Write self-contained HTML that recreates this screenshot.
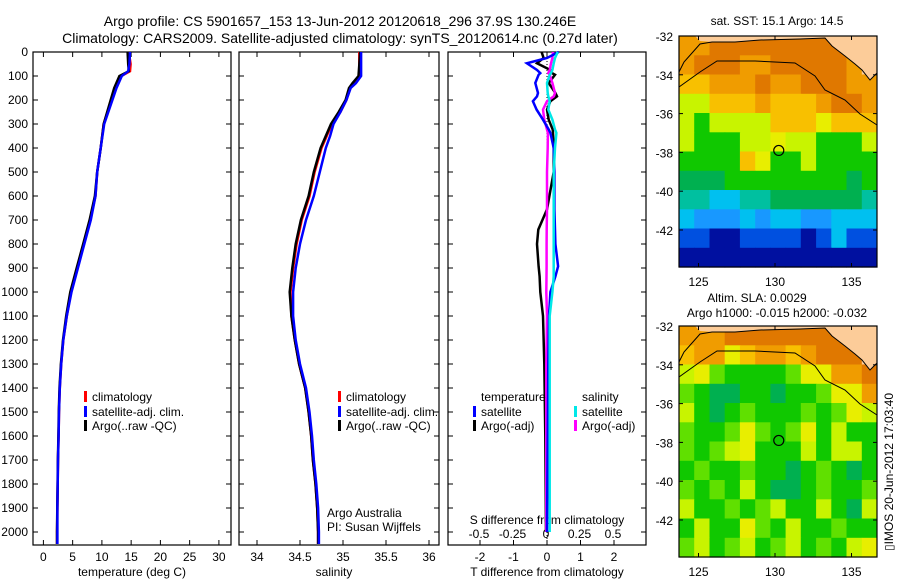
<!DOCTYPE html>
<html><head><meta charset="utf-8"><style>
body{margin:0;background:#fff;}
svg{display:block;font-family:"Liberation Sans",sans-serif;}
</style></head><body>
<svg id="fig" width="900" height="580" viewBox="0 0 900 580" xmlns="http://www.w3.org/2000/svg">
<text x="340" y="26" font-size="14" text-anchor="middle">Argo profile: CS 5901657_153 13-Jun-2012 20120618_296 37.9S 130.246E</text>
<text x="340" y="43" font-size="14" text-anchor="middle">Climatology: CARS2009. Satellite-adjusted climatology: synTS_20120614.nc (0.27d later)</text>
<g id="p1"></g>
<g id="p2"></g>
<g id="p3"></g>
<g id="m1"></g>
<g id="m2"></g>
<text x="777" y="25" font-size="12" text-anchor="middle">sat. SST: 15.1 Argo: 14.5</text>
<text x="757" y="302" font-size="12" text-anchor="middle">Altim. SLA: 0.0029</text>
<text x="777" y="317" font-size="12" text-anchor="middle">Argo h1000: -0.015 h2000: -0.032</text>
<text transform="translate(893,472) rotate(-90)" font-size="12" text-anchor="middle">▯IMOS 20-Jun-2012 17:03:40</text>
</svg>
<script>
// ---- data ----
const depthT = [0,50,80,100,150,200,300,400,500,600,700,800,900,1000,1100,1200,1300,1400,1500,1600,1700,1800,1900,2000,2050];
const tempClim = [14.6,14.9,14.8,13.3,12.3,11.6,10.3,9.8,9.2,8.9,8.0,6.9,5.8,4.7,4.0,3.4,3.05,2.8,2.66,2.6,2.5,2.45,2.4,2.35,2.35];
const tempSat  = [14.8,14.7,14.5,13.4,12.5,11.8,10.4,9.8,9.2,8.9,8.1,7.0,5.9,4.8,4.0,3.4,3.05,2.8,2.66,2.6,2.5,2.45,2.4,2.4,2.4];
const tempArgo = [14.4,14.5,14.6,13.0,12.1,11.5,10.3,9.8,9.2,8.8,7.9,6.8,5.7,4.6,3.9,3.35,3.0,2.75,2.63,2.57,2.48,2.42,2.38,2.33,2.33];
const depthS = [0,100,130,150,200,250,300,350,400,500,600,700,800,900,1000,1100,1200,1300,1400,1500,1600,1700,1800,1900,2000,2050];
const salClim = [35.19,35.19,35.14,35.08,35.04,34.97,34.87,34.81,34.75,34.67,34.61,34.52,34.46,34.42,34.39,34.40,34.44,34.49,34.56,34.60,34.63,34.65,34.68,34.70,34.71,34.71];
const salSat  = [35.21,35.21,35.15,35.09,35.04,34.97,34.89,34.85,34.80,34.73,34.66,34.57,34.50,34.45,34.42,34.42,34.45,34.50,34.57,34.61,34.64,34.66,34.69,34.71,34.72,34.72];
const salArgo = [35.20,35.18,35.11,35.07,35.03,34.95,34.86,34.80,34.74,34.66,34.60,34.51,34.45,34.41,34.38,34.40,34.44,34.49,34.56,34.60,34.63,34.65,34.68,34.70,34.71,34.71];
const depthD = [0,25,47,75,88,95,129,171,185,205,240,282,323,337,400,500,656,740,800,893,935,1000,1100,1300,1600,2000];
const dTsat  = [0.35,0.0,-0.6,-0.3,-0.2,-0.25,-0.35,-0.27,-0.3,-0.42,-0.31,-0.12,0.05,0.1,0.2,0.22,0.22,0.24,0.25,0.33,0.25,0.1,0.06,0.04,0.02,0.0];
const dTargo = [-0.16,-0.1,-0.3,0.1,0.15,0.24,0.05,0.25,0.3,0.1,0.0,0.05,0.17,0.18,0.2,0.2,0.0,-0.26,-0.3,-0.25,-0.22,-0.2,-0.12,-0.08,-0.05,-0.03];
const dSargo = [0.045,0.04,0.03,0.02,0.01,0.02,0.04,0.06,0.05,0.0,-0.03,-0.02,0.0,0.007,0.005,0.0,0.0,-0.002,-0.003,-0.003,-0.004,-0.005,0.0,-0.005,-0.005,-0.005];
const dSsat  = [0.08,0.06,0.05,0.04,0.03,0.02,0.0,0.005,0.01,0.02,0.01,0.04,0.06,0.07,0.06,0.05,0.05,0.05,0.05,0.05,0.05,0.04,0.02,0.02,0.02,0.02];
const tTicks = [0,5,10,15,20,25,30];
const sTicks = [34,34.5,35,35.5,36];
const dTicks = [-2,-1,0,1,2];
const sDiffTicks = ["-0.5","-0.25","0","0.25","0.5"];
const depthTicks = [0,100,200,300,400,500,600,700,800,900,1000,1100,1200,1300,1400,1500,1600,1700,1800,1900,2000];
const lonTicks = [125,130,135];
const latTicks = [-32,-34,-36,-38,-40,-42];
const sstGrid = [
"OODDDDDDDDDLL","ODDDOODDDDDOL","ooOOODOODDDOO","yyoooOoooODDO","yGyyyyoooYooo","yGGGyyYyyGGGy",
"GGGGoYGGyGGGG","TTTGGGGGGGGTG","ttCCttTTTTTTt","CbbbCbCCbbCCC","BBNNBBBBNBCBB","NNNNNNNNNNNNN"];
const slaGrid = [
"OOODDDDDDDDLL","oOOYoOOoODDDL","yYgGGGGgYYOOD","gGTTGGTGGgYYO","yGTGgGGGgGgYy","gGGgYgGgYGyGG",
"gGgyYGGGyGyyG","GgGGgGGTGgGTG","gGgGyGTTGgGGg","yGGgGgyGGyGTy","GyGGYgGyGGgGG","gyGgyGgyGgGyY"];
const argoLon = 130.246, argoLat = -37.9;

// ---- helpers ----
const NS="http://www.w3.org/2000/svg";
function mk(parent,tag,attrs,txt){const e=document.createElementNS(NS,tag);for(const k in attrs)e.setAttribute(k,attrs[k]);if(txt!==undefined)e.textContent=txt;parent.appendChild(e);return e;}
const Y0=52, PXD=0.24, YB=545;
const yD=d=>Y0+d*PXD;
const xT=v=>43.4+5.85*v;
const xS=v=>257+86*(v-34);
const xDT=v=>547+33.5*v;
const xDS=v=>547+134*v;

function frame(g,x0,x1,name){
  const r=mk(g,'rect',{x:x0,y:Y0,width:x1-x0,height:YB-Y0,fill:'none',stroke:'#000','stroke-width':1.2});
  
  depthTicks.forEach(d=>{
    mk(g,'line',{x1:x0,x2:x0+5,y1:yD(d),y2:yD(d),stroke:'#000'});
    mk(g,'line',{x1:x1,x2:x1-5,y1:yD(d),y2:yD(d),stroke:'#000'});
  });
}
function line(g,xs,ds,fx,color,name,w){
  const p=mk(g,'polyline',{points:xs.map((v,i)=>fx(v).toFixed(1)+','+yD(ds[i]).toFixed(1)).join(' '),fill:'none',stroke:color,'stroke-width':w||2.5});
  
  
}
function xticks(g,vals,fx,labels,ly){
  vals.forEach((v,i)=>{
    mk(g,'line',{x1:fx(v),x2:fx(v),y1:Y0,y2:Y0+5,stroke:'#000'});
    mk(g,'line',{x1:fx(v),x2:fx(v),y1:YB,y2:YB-5,stroke:'#000'});
    const t=mk(g,'text',{x:fx(v),y:ly,'font-size':12,'text-anchor':'middle'},labels?labels[i]:String(v));
    
    
  });
}
function legendRow(g,x,y,color,label){
  if(color) mk(g,'rect',{x:x,y:y-10,width:3,height:11,fill:color});
  const t=mk(g,'text',{x:x+8,y:y,'font-size':12},label);
  
  
}

// ---- panel 1 ----
const p1=document.getElementById('p1');
frame(p1,33,231,'temperature-panel');
depthTicks.forEach(d=>{const t=mk(p1,'text',{x:28,y:yD(d)+4,'font-size':12,'text-anchor':'end'},String(d));
  
  });
xticks(p1,tTicks,xT,null,561);
mk(p1,'text',{x:132,y:576,'font-size':12,'text-anchor':'middle'},'temperature (deg C)');
line(p1,tempClim,depthT,xT,'#ff0000','temp-climatology-line');
line(p1,tempArgo,depthT,xT,'#000000','temp-argo-line');
line(p1,tempSat,depthT,xT,'#0000ff','temp-satellite-line');
legendRow(p1,84,401,'#ff0000','climatology');
legendRow(p1,84,416,'#0000ff','satellite-adj. clim.');
legendRow(p1,84,430,'#000000','Argo(..raw -QC)');

// ---- panel 2 ----
const p2=document.getElementById('p2');
frame(p2,239,439,'salinity-panel');
xticks(p2,sTicks,xS,null,561);
mk(p2,'text',{x:334,y:576,'font-size':12,'text-anchor':'middle'},'salinity');
line(p2,salClim,depthS,xS,'#ff0000','sal-climatology-line');
line(p2,salArgo,depthS,xS,'#000000','sal-argo-line');
line(p2,salSat,depthS,xS,'#0000ff','sal-satellite-line');
legendRow(p2,338,401,'#ff0000','climatology');
legendRow(p2,338,416,'#0000ff','satellite-adj. clim.');
legendRow(p2,338,430,'#000000','Argo(..raw -QC)');
mk(p2,'text',{x:327,y:517,'font-size':12},'Argo Australia');
mk(p2,'text',{x:327,y:531,'font-size':12},'PI: Susan Wijffels');

// ---- panel 3 ----
const p3=document.getElementById('p3');
frame(p3,448,646,'difference-panel');
xticks(p3,dTicks,xDT,null,561);
dTicks.forEach((v,i)=>{mk(p3,'text',{x:xDT(v)-1,y:538,'font-size':12,'text-anchor':'middle'},sDiffTicks[i]);});
mk(p3,'text',{x:547,y:524,'font-size':12,'text-anchor':'middle'},'S difference from climatology');
mk(p3,'text',{x:547,y:576,'font-size':12,'text-anchor':'middle'},'T difference from climatology');
mk(p3,'line',{x1:547,x2:547,y1:Y0,y2:YB,stroke:'#000','stroke-dasharray':'1,2'});
line(p3,dTargo,depthD,xDT,'#000000','tdiff-argo-line');
line(p3,dSargo,depthD,xDS,'#ff00ff','sdiff-argo-line');
line(p3,dTsat,depthD,xDT,'#0000ff','tdiff-satellite-line');
line(p3,dSsat,depthD,xDS,'#00e8e8','sdiff-satellite-line');
mk(p3,'text',{x:481,y:401,'font-size':12},'temperature');
mk(p3,'text',{x:582,y:401,'font-size':12},'salinity');
legendRow(p3,473,416,'#0000ff','satellite');
legendRow(p3,473,430,'#000000','Argo(-adj)');
legendRow(p3,574,416,'#00e8e8','satellite');
legendRow(p3,574,430,'#ff00ff','Argo(-adj)');

// ---- maps ----
const pal={L:'#fccc99',D:'#e07800',O:'#f09c00',o:'#f8c000',Y:'#e8ee00',y:'#c8f400',g:'#60e000',G:'#10c800',T:'#00b050',t:'#00c0a0',C:'#00c0f0',b:'#1898ff',B:'#0050e0',N:'#0010a0'};
const MX0=679,MX1=877,PXLON=15.3,PXLAT=19.4;
function mapLon(v){return 775+(v-130)*PXLON;}
function drawMap(id,grid,top,label){
  const g=document.getElementById(id);
  const lat=v=>top+(-32-v)*PXLAT;
  const rows=grid.length, cols=grid[0].length;
  const cw=(MX1-MX0)/cols, rh=231/rows;
  grid.forEach((row,r)=>{for(let c=0;c<cols;c++){
    mk(g,'rect',{x:(MX0+c*cw).toFixed(1),y:(top+r*rh).toFixed(1),width:(cw+0.5).toFixed(1),height:(rh+0.5).toFixed(1),fill:pal[row[c]]});
  }});
  const P=pts=>pts.map(p=>p[0]+','+(top+p[1])).join(' ');
  mk(g,'polygon',{points:P([[695,0],[700,5],[712,6],[735,6],[760,4],[800,3],[825,2],[832,10],[845,20],[855,28],[862,34],[870,44],[877,37],[877,0]]),fill:pal.L});
  mk(g,'polyline',{points:P([[679,36],[684,26],[700,8],[712,6],[735,6],[760,4],[800,3],[825,2],[832,10],[845,20],[855,28],[862,34],[870,44],[877,37]]),fill:'none',stroke:'#000','stroke-width':1});
  mk(g,'polyline',{points:P([[679,51],[700,36],[717,25],[755,25],[795,27],[815,40],[825,54],[845,64],[860,78],[877,89]]),fill:'none',stroke:'#000','stroke-width':1});
  const c=mk(g,'circle',{cx:mapLon(argoLon),cy:lat(argoLat),r:5,fill:'none',stroke:'#000','stroke-width':1.2});
  
  
  const f=mk(g,'rect',{x:MX0,y:top,width:MX1-MX0,height:231,fill:'none',stroke:'#000','stroke-width':1.2});
  
  
  latTicks.forEach(v=>{
    mk(g,'line',{x1:MX0,x2:MX0+4,y1:lat(v),y2:lat(v),stroke:'#000'});
    mk(g,'line',{x1:MX1,x2:MX1-4,y1:lat(v),y2:lat(v),stroke:'#000'});
    mk(g,'text',{x:673,y:lat(v)+5,'font-size':12,'text-anchor':'end'},String(v));
  });
  lonTicks.forEach(v=>{
    mk(g,'line',{x1:mapLon(v),x2:mapLon(v),y1:top,y2:top+4,stroke:'#000'});
    mk(g,'line',{x1:mapLon(v),x2:mapLon(v),y1:top+231,y2:top+227,stroke:'#000'});
    mk(g,'text',{x:mapLon(v),y:top+250,'font-size':12,'text-anchor':'middle'},String(v));
  });
}
drawMap('m1',sstGrid,36,'sst-map');
drawMap('m2',slaGrid,326,'sla-map');
</script>
</body></html>
